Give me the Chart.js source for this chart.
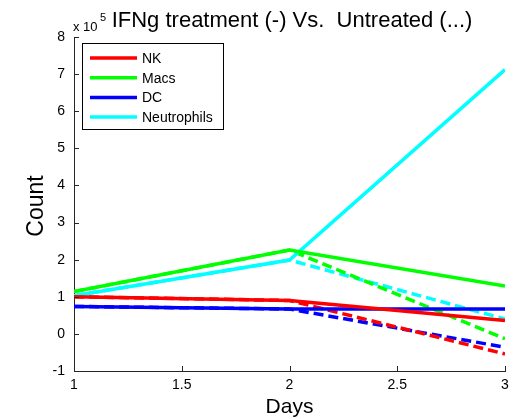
<!DOCTYPE html>
<html>
<head>
<meta charset="utf-8">
<script src="https://cdn.jsdelivr.net/npm/chart.js@4"></script>
<style>
  html, body { margin: 0; padding: 0; background: #fff; }
  canvas { display: block; }
</style>
</head>
<body>
<canvas id="myChart" width="523" height="419"></canvas>
<script>
// counts are in units of 1e5
const days = [1, 2, 3];
const cellTypes = ['NK', 'Macs', 'DC', 'Neutrophils'];
const colors = ['#ff0000', '#00ff00', '#0000ff', '#00ffff'];
const nkTreated = [1.0, 0.9, 0.36];
const macsTreated = [1.14, 2.26, 1.29];
const dcTreated = [0.74, 0.67, 0.67];
const neutTreated = [1.03, 1.99, 7.12];
const nkUntreated = [1.0, 0.9, -0.54];
const macsUntreated = [1.14, 2.26, -0.13];
const dcUntreated = [0.74, 0.67, -0.36];
const neutUntreated = [1.03, 1.99, 0.40];
const xTicks = [1, 1.5, 2, 2.5, 3];
const yTicks = [-1, 0, 1, 2, 3, 4, 5, 6, 7, 8];

const FONT = '"Liberation Sans", Arial, Helvetica, sans-serif';
const treated = [nkTreated, macsTreated, dcTreated, neutTreated];
const untreated = [nkUntreated, macsUntreated, dcUntreated, neutUntreated];

const toPoints = vals => vals.map((v, i) => ({ x: days[i], y: v }));

const datasets = [];
treated.forEach((vals, i) => datasets.push({
  label: cellTypes[i], data: toPoints(vals), borderColor: colors[i],
  borderWidth: 3.5, pointRadius: 0, fill: false, tension: 0
}));
untreated.forEach((vals, i) => datasets.push({
  label: cellTypes[i] + ' untreated', data: toPoints(vals), borderColor: colors[i],
  borderWidth: 3.5, borderDash: [10, 5], pointRadius: 0, fill: false, tension: 0,
  legendHidden: true
}));

// matlab-ish decorations: inward ticks, title, labels, boxed legend
const decor = {
  id: 'decor',
  beforeDraw(chart) {
    const c = chart.ctx;
    c.save();
    c.fillStyle = '#fff';
    c.fillRect(0, 0, chart.width, chart.height);
    c.restore();
  },
  afterDraw(chart) {
    const c = chart.ctx;
    const { left, right, top, bottom } = chart.chartArea;
    const xs = chart.scales.x, ys = chart.scales.y;
    c.save();
    c.strokeStyle = '#262626';
    c.lineWidth = 1;
    c.beginPath();
    xTicks.forEach(t => {
      const px = Math.round(xs.getPixelForValue(t)) + 0.5;
      c.moveTo(px, bottom); c.lineTo(px, bottom - 5);
    });
    yTicks.forEach(t => {
      const py = Math.round(ys.getPixelForValue(t)) + 0.5;
      c.moveTo(left, py); c.lineTo(left + 5, py);
    });
    c.stroke();

    c.fillStyle = '#000';
    c.textAlign = 'center';
    c.textBaseline = 'alphabetic';
    c.font = '22px ' + FONT;
    c.fillText('IFNg treatment (-) Vs.  Untreated (...)', 292, 27);

    c.textAlign = 'left';
    c.font = '13px ' + FONT;
    c.fillText('x 10', 73, 31);
    c.font = '11px ' + FONT;
    c.fillText('5', 100, 21);

    c.textAlign = 'center';
    c.font = '21px ' + FONT;
    c.fillText('Days', (left + right) / 2, 413);
    c.save();
    c.translate(43, 206);
    c.rotate(-Math.PI / 2);
    c.font = '23px ' + FONT;
    c.fillText('Count', 0, 0);
    c.restore();

    // legend
    const lx = 82.5, ly = 43.5, lw = 141, lh = 86;
    c.fillStyle = '#fff';
    c.fillRect(lx, ly, lw, lh);
    c.strokeStyle = '#000';
    c.lineWidth = 1;
    c.strokeRect(lx, ly, lw, lh);
    c.font = '14px ' + FONT;
    c.textAlign = 'left';
    c.textBaseline = 'middle';
    chart.data.datasets.filter(d => !d.legendHidden).forEach((d, i) => {
      const y = 58 + i * 19.7;
      c.strokeStyle = d.borderColor;
      c.lineWidth = 3.5;
      c.beginPath();
      c.moveTo(90, y); c.lineTo(137, y);
      c.stroke();
      c.fillStyle = '#000';
      c.fillText(d.label, 142, y + 1);
    });
    c.restore();
  }
};

new Chart(document.getElementById('myChart').getContext('2d'), {
  type: 'line',
  data: { datasets },
  options: {
    responsive: false,
    animation: false,
    layout: { padding: { top: 37, right: 18, left: 0, bottom: 0 } },
    plugins: { legend: { display: false }, tooltip: { enabled: false }, title: { display: false } },
    scales: {
      x: {
        type: 'linear', min: 1, max: 3,
        afterFit: s => { s.height = 48; },
        afterBuildTicks: s => { s.ticks = xTicks.map(v => ({ value: v })); },
        grid: { display: false, drawTicks: false },
        border: { display: true, color: '#262626', width: 1 },
        ticks: { color: '#000', padding: 6, font: { size: 14, family: FONT }, maxRotation: 0, autoSkip: false,
                 callback: v => String(v) }
      },
      y: {
        min: -1, max: 8,
        afterFit: s => { s.width = 74; },
        afterBuildTicks: s => { s.ticks = yTicks.map(v => ({ value: v })); },
        grid: { display: false, drawTicks: false },
        border: { display: true, color: '#262626', width: 1 },
        ticks: { color: '#000', padding: 9, font: { size: 14, family: FONT }, autoSkip: false,
                 callback: v => String(v) }
      }
    }
  },
  plugins: [decor]
});
</script>
</body>
</html>
